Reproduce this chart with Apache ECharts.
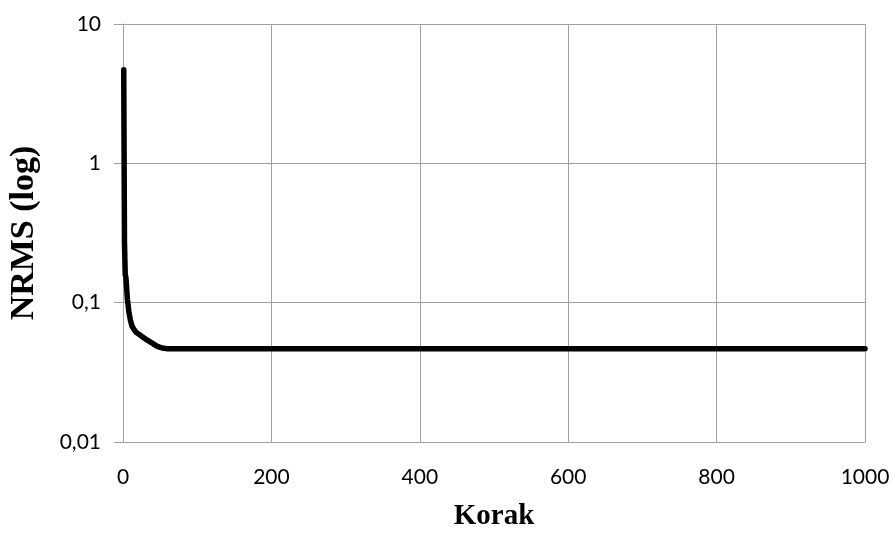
<!DOCTYPE html>
<html>
<head>
<meta charset="utf-8">
<script src="https://cdn.jsdelivr.net/npm/echarts@6/dist/echarts.min.js"></script>
<style>
  html, body { margin: 0; padding: 0; background: #fff; }
  #chart { width: 894px; height: 536px; }
</style>
</head>
<body>
<div id="chart"></div>
<script>
var steps = [1, 2, 3, 4, 5, 6, 7, 8, 10, 12, 15, 18, 22, 26, 30, 35, 40, 45, 50, 55, 60, 70, 80, 100, 200, 300, 400, 500, 600, 700, 800, 900, 1000]
var nrms = [4.7, 0.27, 0.16, 0.15, 0.125, 0.105, 0.095, 0.085, 0.075, 0.068, 0.064, 0.061, 0.059, 0.057,
  0.055, 0.053, 0.051, 0.049, 0.0478, 0.0470, 0.0467, 0.0466, 0.0466, 0.0466, 0.0466, 0.0466, 0.0466,
  0.0466, 0.0466, 0.0466, 0.0466, 0.0466, 0.0466]
var xTicks = [0, 200, 400, 600, 800, 1000]
var yTicks = [0.01, 0.1, 1, 10]

var myChart = echarts.init(document.getElementById('chart'))

var lineData = steps.map(function(s, i) {
  return [s, nrms[i]]
})

var gridColor = '#a0a0a0'
var tickFont = 'Lato, "Open Sans", sans-serif'
var titleFont = '"Liberation Serif", "Times New Roman", serif'

var option = {
  animation: false,
  backgroundColor: '#fff',
  grid: {
    left: 123,
    right: 29,
    top: 24,
    bottom: 94,
    containLabel: false,
    outerBoundsMode: 'none'
  },
  xAxis: {
    type: 'value',
    min: xTicks[0],
    max: xTicks[xTicks.length - 1],
    interval: 200,
    name: 'Korak',
    nameLocation: 'middle',
    nameGap: 60,
    nameTextStyle: {
      fontFamily: titleFont,
      fontWeight: 'bold',
      fontSize: 29,
      color: '#000'
    },
    axisLine: { show: true, lineStyle: { color: gridColor, width: 1 } },
    axisTick: { show: false },
    axisLabel: {
      margin: 25,
      fontFamily: tickFont,
      fontSize: 21,
      color: '#000',
      formatter: function(v) {
        return String(v)
      }
    },
    splitLine: { show: true, lineStyle: { color: gridColor, width: 1 } }
  },
  yAxis: {
    type: 'log',
    logBase: 10,
    min: yTicks[0],
    max: yTicks[yTicks.length - 1],
    name: 'NRMS (log)',
    nameLocation: 'middle',
    nameGap: 82,
    nameTextStyle: {
      fontFamily: titleFont,
      fontWeight: 'bold',
      fontSize: 34,
      color: '#000'
    },
    axisLine: { show: true, lineStyle: { color: gridColor, width: 1 } },
    axisTick: { show: true, inside: false, length: 9, lineStyle: { color: gridColor } },
    axisLabel: {
      margin: 22,
      fontFamily: tickFont,
      fontSize: 21,
      color: '#000',
      formatter: function(v) {
        return String(parseFloat(Number(v).toPrecision(6))).replace('.', ',')
      }
    },
    splitLine: { show: true, lineStyle: { color: gridColor, width: 1 } }
  },
  series: [
    {
      type: 'line',
      data: lineData,
      showSymbol: false,
      symbol: 'none',
      lineStyle: { color: '#000', width: 5.5, join: 'round', cap: 'round' }
    }
  ]
}

myChart.setOption(option)
window.onresize = function() {
  myChart.resize()
}
</script>
</body>
</html>
